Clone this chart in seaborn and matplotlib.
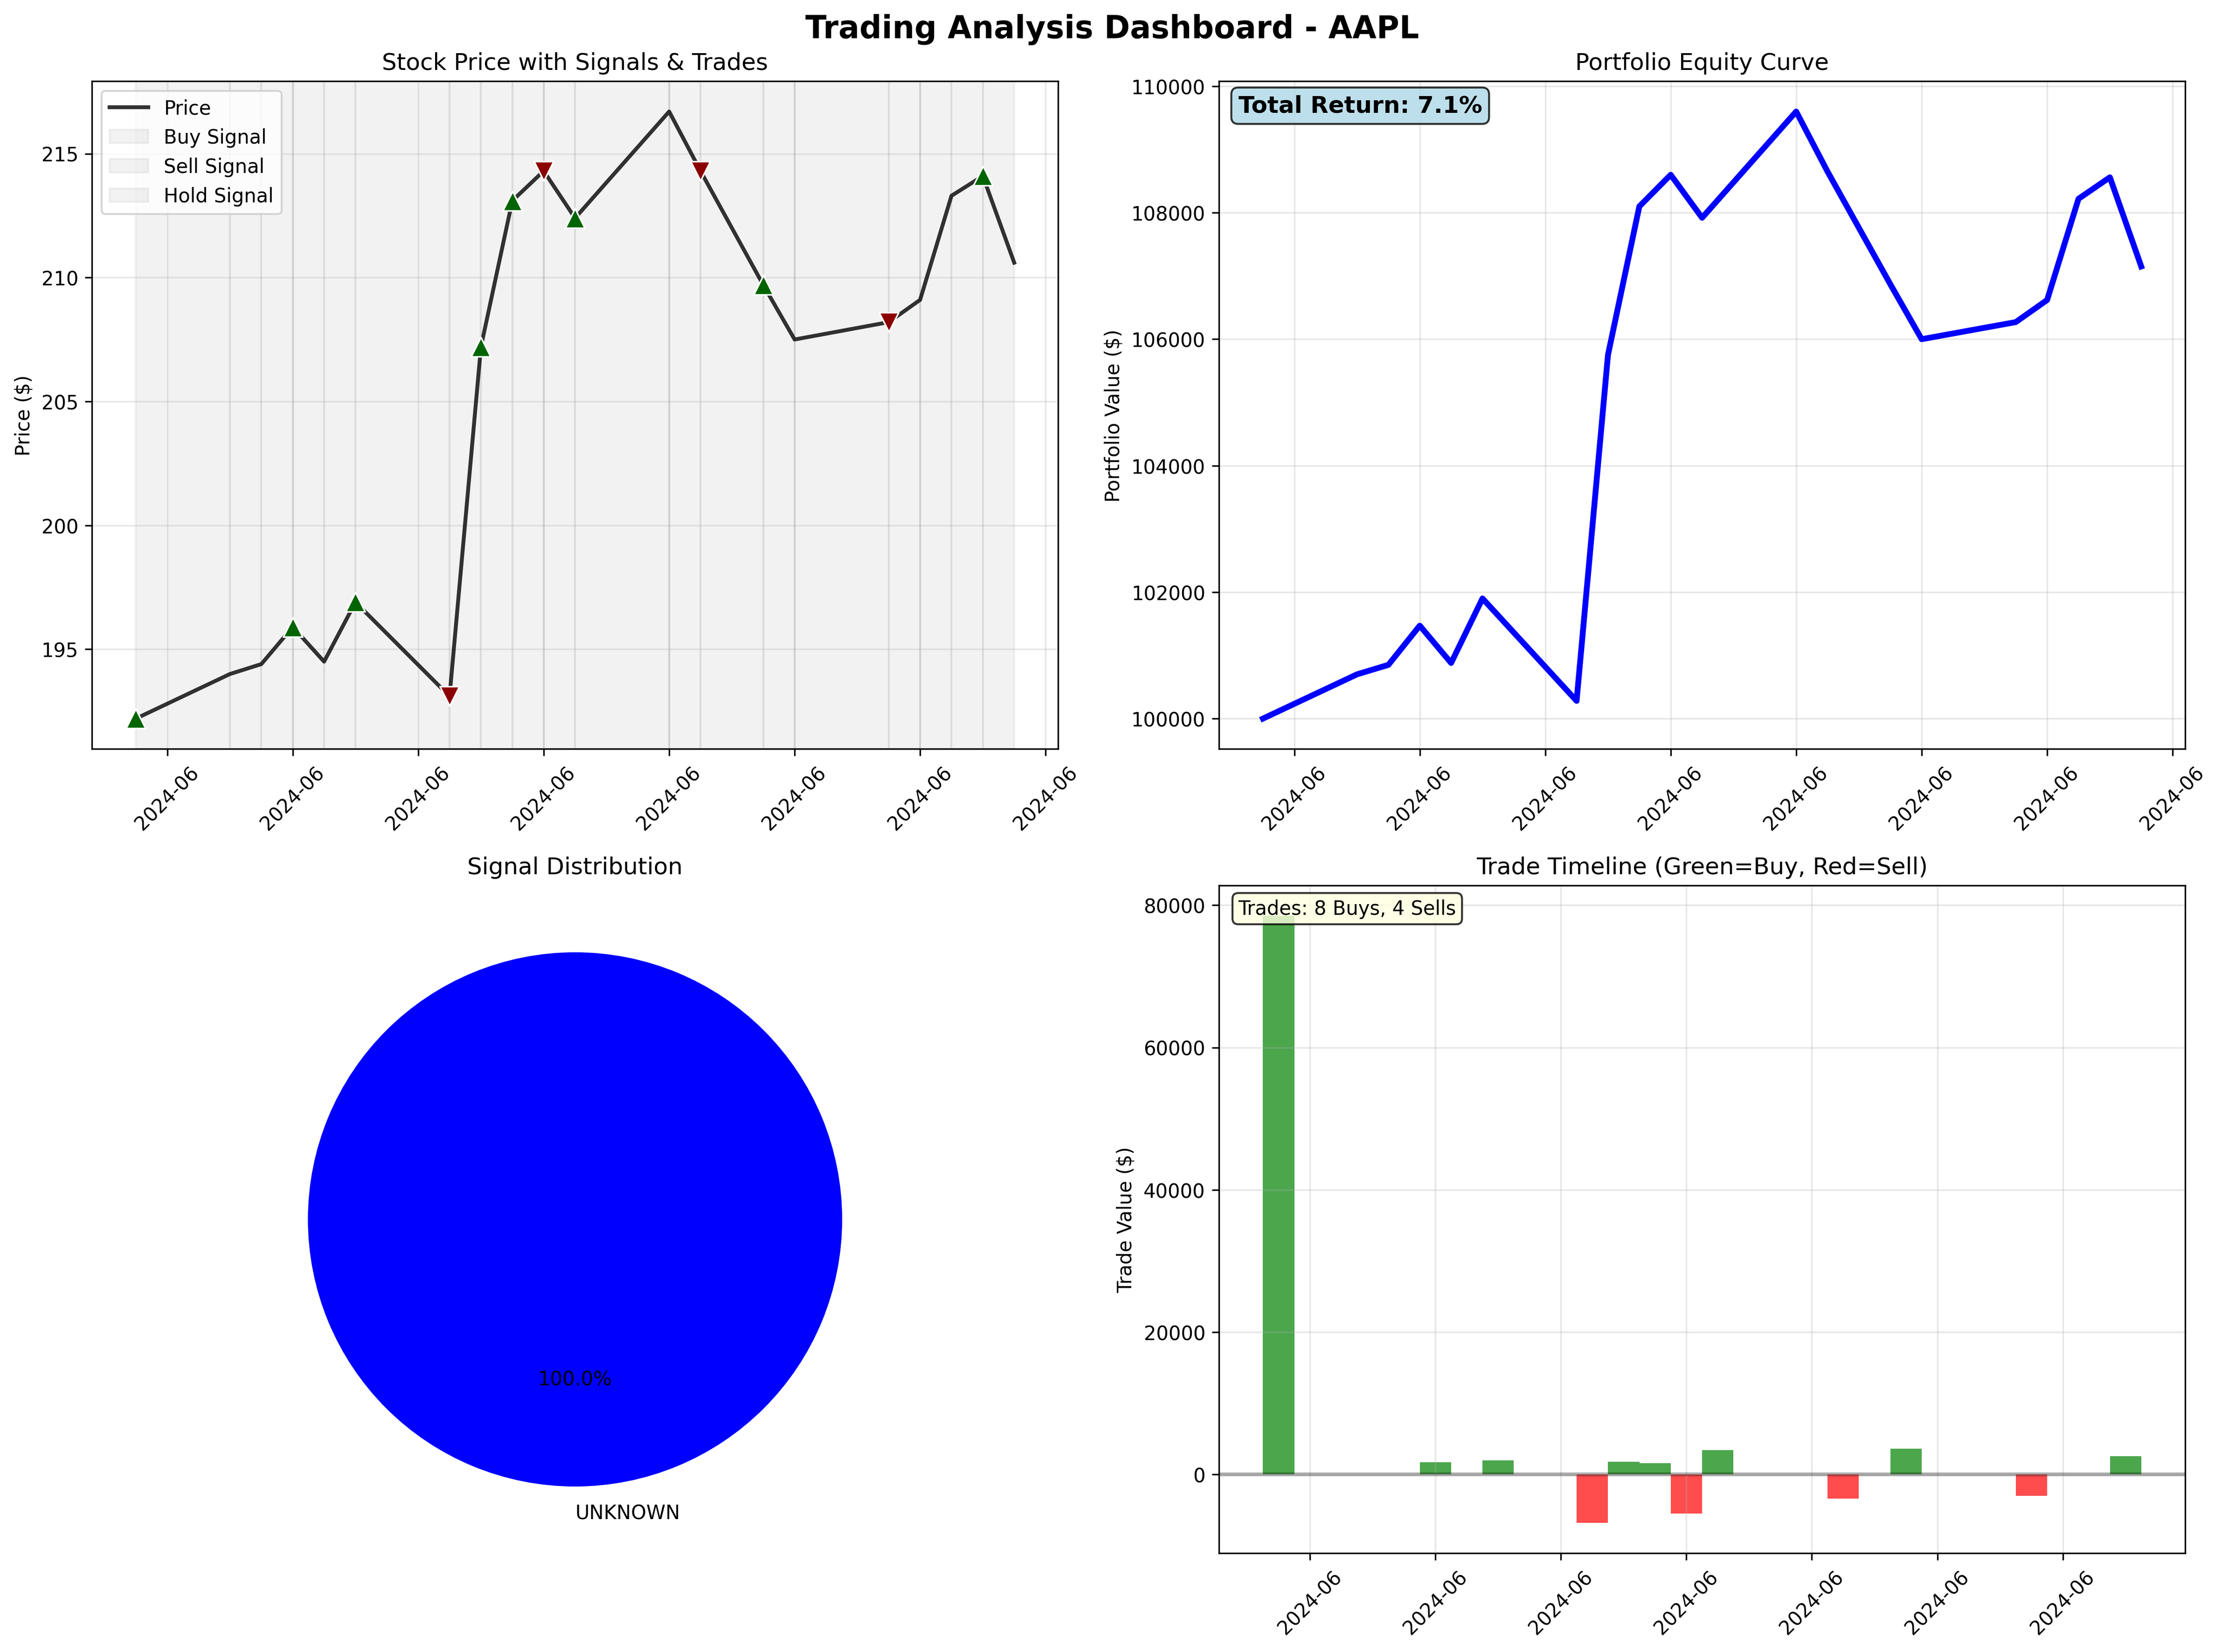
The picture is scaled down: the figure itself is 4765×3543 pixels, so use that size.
import matplotlib
matplotlib.use("Agg")
import matplotlib.pyplot as plt
import seaborn as sns
import pandas as pd
import numpy as np

dates = pd.to_datetime(["2024-05-31", "2024-06-03", "2024-06-04", "2024-06-05", "2024-06-06",
                        "2024-06-07", "2024-06-10", "2024-06-11", "2024-06-12", "2024-06-13",
                        "2024-06-14", "2024-06-17", "2024-06-18", "2024-06-20", "2024-06-21",
                        "2024-06-24", "2024-06-25", "2024-06-26", "2024-06-27", "2024-06-28"])
prices = [192.2, 194.0, 194.4, 195.9, 194.5, 196.9, 193.1, 207.2, 213.1, 214.3,
          212.4, 216.7, 214.3, 209.7, 207.5, 208.2, 209.1, 213.3, 214.1, 210.6]
equity = [100000, 100700, 100850, 101470, 100880, 101900, 100280, 105750, 108100, 108600,
          107920, 109600, 108650, 106870, 106000, 106270, 106620, 108220, 108560, 107150]
trade_dates = pd.to_datetime(["2024-05-31", "2024-06-05", "2024-06-07", "2024-06-10", "2024-06-11",
                              "2024-06-12", "2024-06-13", "2024-06-14", "2024-06-18", "2024-06-20",
                              "2024-06-24", "2024-06-27"])
trade_values = [78500, 1700, 2000, -6800, 1800, 1600, -5500, 3400, -3400, 3600, -3000, 2600]
trade_sides = ["BUY", "BUY", "BUY", "SELL", "BUY", "BUY", "SELL", "BUY", "SELL", "BUY", "SELL", "BUY"]
signal_labels = ["UNKNOWN"]
signal_counts = [20]

df = pd.DataFrame({"date": dates, "price": prices, "equity": equity})
tr = pd.DataFrame({"date": trade_dates, "value": trade_values, "side": trade_sides})
tr = tr.merge(df[["date", "price"]], on="date")

fig, axes = plt.subplots(2, 2, figsize=(16, 12))
fig.suptitle("Trading Analysis Dashboard - AAPL", fontsize=16, fontweight="bold")

# Price
ax = axes[0, 0]
sns.lineplot(data=df, x="date", y="price", ax=ax, color="black", alpha=0.8, linewidth=2, label="Price")
labels_done = []
span_labels = ["Buy Signal", "Sell Signal", "Hold Signal"]
for i in range(len(dates) - 1):
    lab = span_labels[i] if i < 3 else None
    ax.axvspan(dates[i], dates[i + 1], facecolor="gray", edgecolor="gray", alpha=0.1, label=lab)
buys = tr[tr.side == "BUY"]
sells = tr[tr.side == "SELL"]
sns.scatterplot(data=buys, x="date", y="price", ax=ax, marker="^", color="darkgreen", s=100,
                edgecolor="white", zorder=5, legend=False)
sns.scatterplot(data=sells, x="date", y="price", ax=ax, marker="v", color="darkred", s=100,
                edgecolor="white", zorder=5, legend=False)
ax.set_title("Stock Price with Signals & Trades")
ax.set_ylabel("Price ($)")
ax.set_xlabel("")
ax.legend(loc="upper left")
ax.grid(True, alpha=0.3)
ax.tick_params(axis="x", rotation=45)

# Equity
ax = axes[0, 1]
sns.lineplot(data=df, x="date", y="equity", ax=ax, color="blue", linewidth=3)
ax.set_title("Portfolio Equity Curve")
ax.set_ylabel("Portfolio Value ($)")
ax.set_xlabel("")
ax.grid(True, alpha=0.3)
ax.tick_params(axis="x", rotation=45)
ret = (equity[-1] / equity[0] - 1) * 100
ax.text(0.02, 0.98, f"Total Return: {ret:.1f}%", transform=ax.transAxes, fontsize=12,
        fontweight="bold", va="top", bbox=dict(boxstyle="round", facecolor="lightblue", alpha=0.8))

# Pie
ax = axes[1, 0]
ax.pie(signal_counts, labels=signal_labels, autopct="%1.1f%%", colors=["blue"], startangle=90)
ax.set_title("Signal Distribution")

# Trades
ax = axes[1, 1]
cols = ["green" if s == "BUY" else "red" for s in trade_sides]
ax.bar(tr["date"], tr["value"], color=cols, alpha=0.7, width=1.0)
ax.axhline(0, color="black", alpha=0.3, linewidth=2)
ax.set_title("Trade Timeline (Green=Buy, Red=Sell)")
ax.set_ylabel("Trade Value ($)")
ax.grid(True, alpha=0.3)
ax.tick_params(axis="x", rotation=45)
nb = trade_sides.count("BUY")
ns = trade_sides.count("SELL")
ax.text(0.02, 0.98, f"Trades: {nb} Buys, {ns} Sells", transform=ax.transAxes, fontsize=10,
        va="top", bbox=dict(boxstyle="round", facecolor="lightyellow", alpha=0.8))

import matplotlib.dates as mdates
for a in [axes[0, 0], axes[0, 1], axes[1, 1]]:
    a.xaxis.set_major_locator(mdates.DayLocator(bymonthday=[1, 5, 9, 13, 17, 21, 25, 29]))
    a.xaxis.set_major_formatter(mdates.DateFormatter("%Y-%m"))

plt.tight_layout()
fig.savefig("out.png", dpi=300, bbox_inches="tight")
